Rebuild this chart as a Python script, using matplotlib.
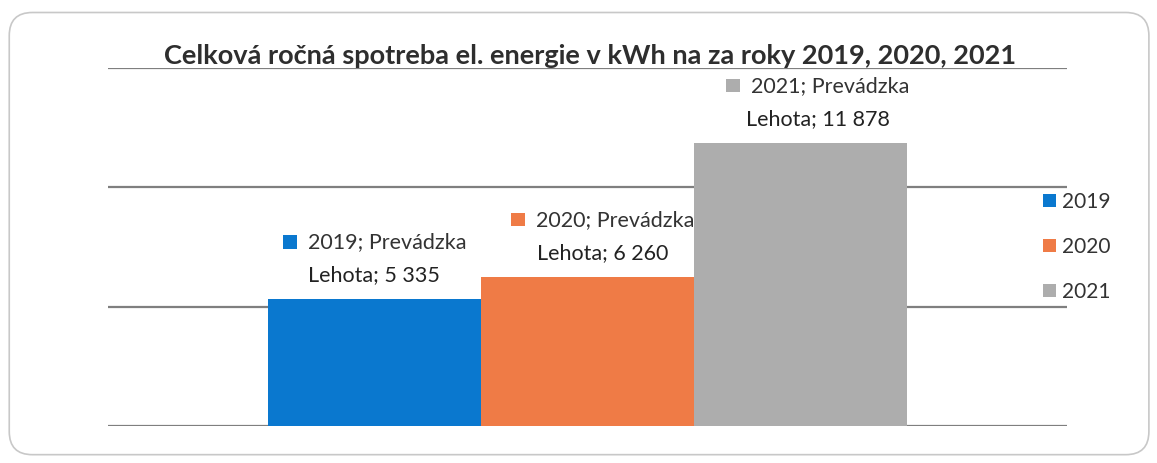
import matplotlib.pyplot as plt
from matplotlib.patches import FancyBboxPatch, Rectangle
from matplotlib.offsetbox import (AnnotationBbox, DrawingArea, HPacker,
                                  TextArea, VPacker)

plt.rcParams['font.family'] = ['Lato', 'DejaVu Sans']

title = "Celková ročná spotreba el. energie v kWh na za roky 2019, 2020, 2021"
years = ["2019", "2020", "2021"]
site = "Prevádzka Lehota"
values = [5335, 6260, 11878]
colors = ["#0a78cf", "#ef7b46", "#adadad"]
label_shift = [0, 0.07, 0.08]  # posun popiskov doprava (v jednotkach stlpca)

fig = plt.figure(figsize=(11.57, 4.63), dpi=100)

# zaobleny ramik okolo celeho grafu
frame = FancyBboxPatch((0.008, 0.018), 0.985, 0.955, transform=fig.transFigure,
                       boxstyle="round,pad=0,rounding_size=0.02",
                       fc="none", ec="#c8c8c8", lw=1.2, mutation_aspect=2.5,
                       zorder=0)
fig.patches.append(frame)

ax = fig.add_axes([0.0933, 0.080, 0.829, 0.773])
ax.set_facecolor("none")

x = range(len(values))
bars = ax.bar(x, values, width=1.0, color=colors, zorder=3)

for y in [0, 5000, 10000, 15000]:
    ax.axhline(y, color="#7f7f7f", lw=1.6, zorder=1)

ax.set_xlim(-1.25, 3.25)
ax.set_ylim(0, 15000)
ax.set_xticks([])
ax.set_yticks([])
for s in ax.spines.values():
    s.set_visible(False)

# popisky dat so stvorcekom farby
for i, v in enumerate(values):
    sq = DrawingArea(11, 11, 0, 0)
    sq.add_artist(Rectangle((0, 1), 10, 10, fc=colors[i], ec="none"))
    line1 = TextArea(years[i] + "; Prevádzka",
                     textprops=dict(fontsize=15.5, color="#333333"))
    line2 = TextArea("Lehota; " + f"{v:,}".replace(",", " "),
                     textprops=dict(fontsize=15.5, color="#222222"))
    top = HPacker(children=[sq, line1], align="center", pad=0, sep=7)
    box = VPacker(children=[top, line2], align="center", pad=0, sep=9)
    ab = AnnotationBbox(box, (i + label_shift[i], v), xybox=(0, 10),
                        boxcoords="offset points", frameon=False,
                        box_alignment=(0.5, 0), zorder=4)
    ax.add_artist(ab)

ax.legend(bars, years, loc="center left", bbox_to_anchor=(0.975, 0.5),
          frameon=False, fontsize=15, handlelength=0.6, handleheight=0.6,
          handletextpad=0.3, labelspacing=1.2, labelcolor="#333333",
          borderpad=0, borderaxespad=0)

fig.text(0.51, 0.878, title, ha="center", va="center", fontsize=19.5,
         fontweight="bold", color="#2e2e2e")

fig.savefig("out.png", dpi=100)
